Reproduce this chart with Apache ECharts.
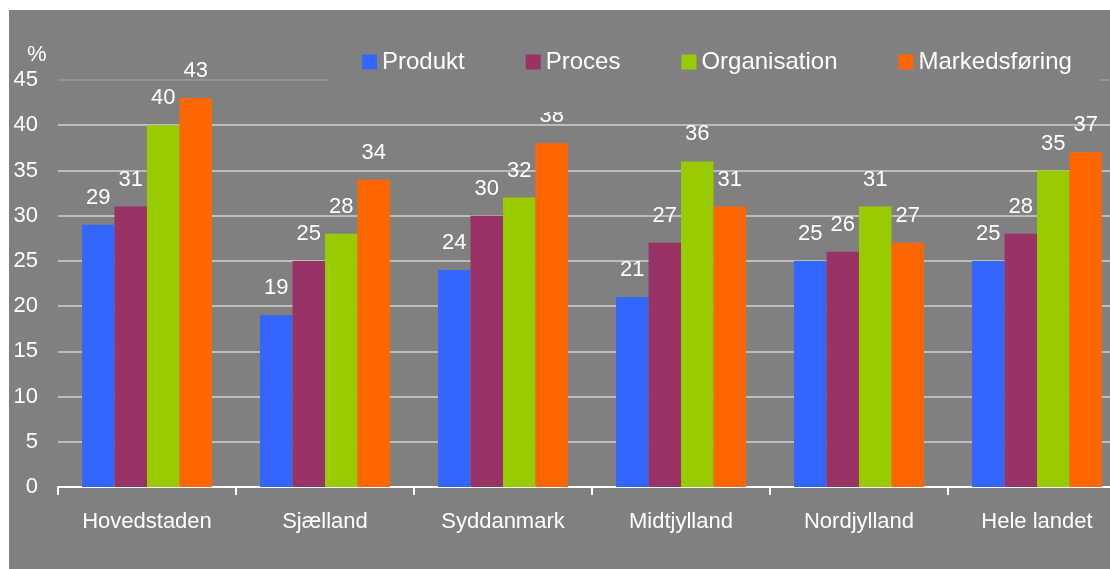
<!DOCTYPE html>
<html>
<head>
<meta charset="utf-8">
<script src="https://cdn.jsdelivr.net/npm/echarts@6/dist/echarts.min.js"></script>
<style>
  html, body { margin:0; padding:0; background:#ffffff; overflow:hidden; width:1110px; height:569px; }
  #chart { position:absolute; left:9px; top:10px; width:1117px; height:559px; }
</style>
</head>
<body>
<div id="chart"></div>
<script>
const categories = ['Hovedstaden', 'Sjælland', 'Syddanmark', 'Midtjylland', 'Nordjylland', 'Hele landet'];
const seriesNames = ['Produkt', 'Proces', 'Organisation', 'Markedsføring'];
const produkt = [29, 19, 24, 21, 25, 25];
const proces = [31, 25, 30, 27, 26, 28];
const organisation = [40, 28, 32, 36, 31, 35];
const markedsfoering = [43, 34, 38, 31, 27, 37];
const yTicks = [0, 5, 10, 15, 20, 25, 30, 35, 40, 45];

const colors = ['#3366FF', '#993366', '#99CC00', '#FF6600'];
const values = [produkt, proces, organisation, markedsfoering];
const FONT = 'Liberation Sans, Arial, sans-serif';

const chart = echarts.init(document.getElementById('chart'));
chart.setOption({
  backgroundColor: '#808080',
  animation: false,
  textStyle: { fontFamily: FONT, color: '#ffffff' },
  title: {
    text: '%', left: 18, top: 34, padding: 0,
    textStyle: { color: '#ffffff', fontSize: 22, fontWeight: 'normal', fontFamily: FONT }
  },
  legend: {
    data: seriesNames,
    left: 319, top: 20,
    padding: [20, 27, 38, 34],
    backgroundColor: '#808080',
    icon: 'rect', itemWidth: 15, itemHeight: 15, itemGap: 61,
    textStyle: { color: '#ffffff', fontSize: 24, fontFamily: FONT, padding: [0, 0, 8, 0] }
  },
  grid: { left: 49, right: 0, top: 70, bottom: 82, containLabel: false },
  xAxis: {
    type: 'category', data: categories,
    axisLine: { lineStyle: { color: '#ffffff', width: 2 } },
    axisTick: { show: true, length: 8, lineStyle: { color: '#ffffff', width: 2 } },
    axisLabel: { color: '#ffffff', fontSize: 22, margin: 24, fontFamily: FONT, interval: 0 }
  },
  yAxis: {
    type: 'value', min: yTicks[0], max: yTicks[yTicks.length - 1], interval: 5,
    axisLine: { show: false }, axisTick: { show: false },
    axisLabel: { color: '#ffffff', fontSize: 22, margin: 20, fontFamily: FONT },
    splitLine: { lineStyle: { color: ['#bcbcbc','#bcbcbc','#bcbcbc','#bcbcbc','#bcbcbc','#bcbcbc','#bcbcbc','#bcbcbc','#bcbcbc','#939393'], width: 2 } }
  },
  series: seriesNames.map((name, i) => ({
    name, type: 'bar', data: values[i],
    barGap: '0%', barCategoryGap: '27%',
    itemStyle: { color: colors[i] },
    label: { show: true, position: 'top', distance: 16, color: '#ffffff', fontSize: 22, fontFamily: FONT }
  }))
});
</script>
</body>
</html>
